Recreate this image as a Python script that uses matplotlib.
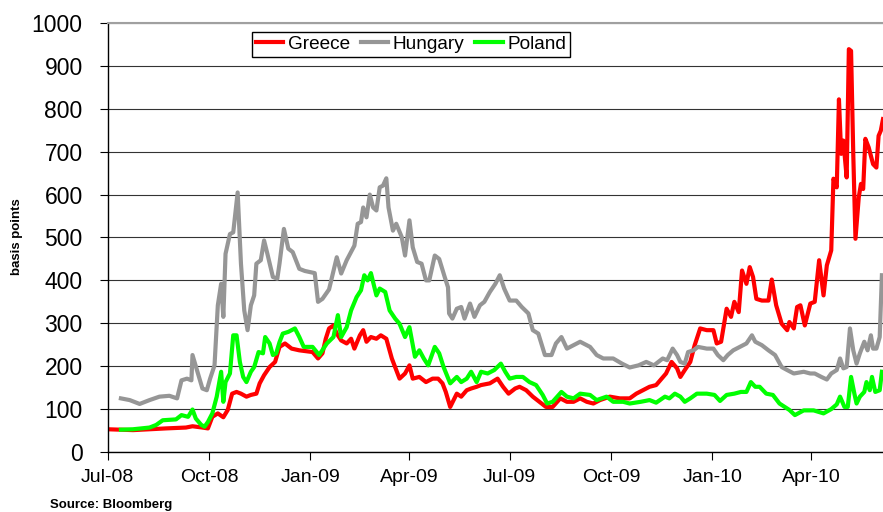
import pandas as pd
import matplotlib
matplotlib.use("Agg")
import matplotlib.pyplot as plt
import matplotlib.dates as mdates
from matplotlib.ticker import MultipleLocator

plt.rcParams['font.family'] = ['Liberation Sans', 'DejaVu Sans']

# 5-year sovereign CDS spreads (basis points)
greece_dates = [
    '2008-07-01', '2008-07-24', '2008-08-23', '2008-09-10', '2008-09-16', '2008-09-25', '2008-09-30',
    '2008-10-04', '2008-10-09', '2008-10-14', '2008-10-18', '2008-10-22', '2008-10-26', '2008-10-30',
    '2008-11-04', '2008-11-08', '2008-11-13', '2008-11-16', '2008-11-20', '2008-11-25', '2008-11-30',
    '2008-12-04', '2008-12-09', '2008-12-15', '2008-12-22', '2008-12-28',
    '2009-01-03', '2009-01-08', '2009-01-12', '2009-01-15', '2009-01-18', '2009-01-22', '2009-01-25', '2009-01-29',
    '2009-02-03', '2009-02-07', '2009-02-10', '2009-02-15', '2009-02-18', '2009-02-21', '2009-02-25',
    '2009-03-02', '2009-03-06', '2009-03-11', '2009-03-16', '2009-03-20', '2009-03-23', '2009-03-28',
    '2009-04-01', '2009-04-04', '2009-04-10', '2009-04-16', '2009-04-22', '2009-04-27',
    '2009-05-01', '2009-05-04', '2009-05-08', '2009-05-14', '2009-05-18', '2009-05-23', '2009-05-27',
    '2009-06-01', '2009-06-05', '2009-06-13', '2009-06-20', '2009-06-25', '2009-06-30',
    '2009-07-06', '2009-07-10', '2009-07-16', '2009-07-22', '2009-07-28',
    '2009-08-03', '2009-08-09', '2009-08-16', '2009-08-22', '2009-08-28',
    '2009-09-03', '2009-09-09', '2009-09-15', '2009-09-21', '2009-09-30',
    '2009-10-09', '2009-10-18', '2009-10-24', '2009-10-30',
    '2009-11-05', '2009-11-11', '2009-11-16', '2009-11-20', '2009-11-25', '2009-11-30',
    '2009-12-03', '2009-12-07', '2009-12-12', '2009-12-16', '2009-12-21', '2009-12-27',
    '2010-01-02', '2010-01-05', '2010-01-09', '2010-01-14', '2010-01-18', '2010-01-21', '2010-01-25', '2010-01-28',
    '2010-02-01', '2010-02-04', '2010-02-07', '2010-02-10', '2010-02-15', '2010-02-21', '2010-02-24', '2010-02-28',
    '2010-03-05', '2010-03-10', '2010-03-12', '2010-03-16', '2010-03-19', '2010-03-22', '2010-03-26', '2010-03-31',
    '2010-04-04', '2010-04-08', '2010-04-12', '2010-04-15', '2010-04-19', '2010-04-21', '2010-04-24', '2010-04-26',
    '2010-04-28', '2010-04-30',
    '2010-05-03', '2010-05-05', '2010-05-07', '2010-05-09', '2010-05-11', '2010-05-14', '2010-05-16', '2010-05-18',
    '2010-05-20', '2010-05-23', '2010-05-27', '2010-05-30',
    '2010-06-01', '2010-06-03', '2010-06-05',
]
greece_values = [
    53, 51, 55, 57, 60, 57, 55,
    82, 90, 81, 98, 136, 140, 136,
    129, 133, 136, 160, 179, 198, 210,
    245, 253, 241, 237, 235,
    233, 218, 230, 264, 288, 295, 276, 260,
    253, 264, 241, 272, 284, 257, 268,
    264, 272, 264, 218, 191, 171, 183,
    202, 171, 175, 163, 171, 171,
    160, 140, 105, 136, 129, 144, 148,
    152, 156, 160, 171, 152, 136,
    148, 152, 144, 129, 117,
    105, 105, 125, 117, 117,
    125, 117, 113, 121, 129,
    125, 125, 136, 144,
    152, 156, 171, 183, 210, 195,
    175, 191, 210, 249, 288, 284,
    284, 253, 257, 334, 315, 350, 326, 423,
    392, 431, 408, 357, 353, 353, 402, 342,
    299, 284, 303, 288, 338, 342, 295, 346,
    350, 447, 365, 435, 470, 637, 617, 822,
    695, 726,
    640, 939, 935, 695, 497, 594, 625, 613,
    730, 710, 671, 663,
    737, 749, 776,
]

hungary_dates = [
    '2008-07-13', '2008-07-21', '2008-07-30',
    '2008-08-08', '2008-08-17', '2008-08-26',
    '2008-09-02', '2008-09-06', '2008-09-11', '2008-09-15', '2008-09-16', '2008-09-21', '2008-09-25', '2008-09-29',
    '2008-10-02', '2008-10-06', '2008-10-09', '2008-10-12', '2008-10-14', '2008-10-16', '2008-10-20', '2008-10-23',
    '2008-10-27', '2008-10-30',
    '2008-11-02', '2008-11-05', '2008-11-08', '2008-11-11', '2008-11-13', '2008-11-17', '2008-11-20', '2008-11-23',
    '2008-11-28',
    '2008-12-02', '2008-12-04', '2008-12-08', '2008-12-12', '2008-12-16', '2008-12-22', '2008-12-27',
    '2009-01-05', '2009-01-08', '2009-01-12', '2009-01-18', '2009-01-25', '2009-01-29',
    '2009-02-03', '2009-02-10', '2009-02-13', '2009-02-16', '2009-02-18', '2009-02-21', '2009-02-24', '2009-02-27',
    '2009-03-02', '2009-03-05', '2009-03-08', '2009-03-11', '2009-03-13', '2009-03-17', '2009-03-20', '2009-03-25',
    '2009-03-28',
    '2009-04-01', '2009-04-04', '2009-04-08', '2009-04-12', '2009-04-16', '2009-04-19', '2009-04-24', '2009-04-28',
    '2009-05-03', '2009-05-06', '2009-05-07', '2009-05-10', '2009-05-14', '2009-05-18', '2009-05-21', '2009-05-26',
    '2009-05-30',
    '2009-06-04', '2009-06-08', '2009-06-13', '2009-06-18', '2009-06-22', '2009-06-26',
    '2009-07-01', '2009-07-07', '2009-07-12', '2009-07-18', '2009-07-22', '2009-07-27',
    '2009-08-02', '2009-08-08', '2009-08-12', '2009-08-17', '2009-08-22', '2009-08-28',
    '2009-09-03', '2009-09-12', '2009-09-18', '2009-09-24',
    '2009-10-03', '2009-10-11', '2009-10-18', '2009-10-26',
    '2009-11-02', '2009-11-09', '2009-11-17', '2009-11-21', '2009-11-26', '2009-11-30',
    '2009-12-03', '2009-12-07', '2009-12-10', '2009-12-15', '2009-12-19', '2009-12-27',
    '2010-01-02', '2010-01-06', '2010-01-11', '2010-01-15', '2010-01-20', '2010-01-26',
    '2010-02-01', '2010-02-06', '2010-02-09', '2010-02-15', '2010-02-21', '2010-02-27',
    '2010-03-05', '2010-03-10', '2010-03-16', '2010-03-25', '2010-03-31',
    '2010-04-04', '2010-04-10', '2010-04-15', '2010-04-19', '2010-04-24', '2010-04-27', '2010-04-30',
    '2010-05-03', '2010-05-06', '2010-05-09', '2010-05-12', '2010-05-15', '2010-05-19', '2010-05-22', '2010-05-25',
    '2010-05-27', '2010-05-30',
    '2010-06-02', '2010-06-04',
]
hungary_values = [
    125, 121, 112,
    121, 129, 131,
    125, 167, 171, 167, 226, 183, 148, 144,
    171, 202, 342, 392, 315, 462, 508, 512,
    605, 439,
    330, 284, 342, 365, 439, 447, 493, 462,
    408,
    404, 439, 520, 474, 466, 427, 422,
    417, 350, 357, 379, 454, 416,
    447, 481, 532, 536, 570, 547, 600, 570,
    563, 617, 621, 638, 570, 516, 532, 501,
    458,
    540, 477, 443, 439, 400, 400, 458, 450,
    408, 384, 323, 311, 334, 338, 311, 346,
    315,
    342, 350, 373, 392, 412, 381,
    353, 353, 338, 323, 284, 276,
    226, 226, 253, 268, 241, 249,
    257, 245, 226, 218,
    218, 206, 197, 202,
    210, 202, 218, 214, 241, 226,
    210, 206, 233, 237, 245, 241,
    241, 226, 214, 226, 237, 245,
    253, 272, 257, 249, 237, 226,
    198, 191, 183, 187, 183,
    183, 175, 169, 183, 191, 218, 195,
    198, 288, 237, 206, 230, 257, 237, 272,
    241, 241,
    268, 412,
]

poland_dates = [
    '2008-07-13', '2008-07-24',
    '2008-08-08', '2008-08-14', '2008-08-20',
    '2008-09-01', '2008-09-06', '2008-09-12', '2008-09-16', '2008-09-19', '2008-09-24', '2008-09-27', '2008-09-30',
    '2008-10-04', '2008-10-08', '2008-10-12', '2008-10-14', '2008-10-16', '2008-10-20', '2008-10-23', '2008-10-26',
    '2008-10-29',
    '2008-11-01', '2008-11-04', '2008-11-08', '2008-11-11', '2008-11-15', '2008-11-19', '2008-11-21', '2008-11-25',
    '2008-11-28',
    '2008-12-01', '2008-12-04', '2008-12-07', '2008-12-12', '2008-12-18', '2008-12-22', '2008-12-26',
    '2009-01-03', '2009-01-09', '2009-01-16', '2009-01-22', '2009-01-26', '2009-01-29',
    '2009-02-03', '2009-02-07', '2009-02-12', '2009-02-16', '2009-02-19', '2009-02-22', '2009-02-25',
    '2009-03-02', '2009-03-05', '2009-03-10', '2009-03-14', '2009-03-19', '2009-03-23', '2009-03-28',
    '2009-04-01', '2009-04-06', '2009-04-10', '2009-04-14', '2009-04-18', '2009-04-24', '2009-04-28',
    '2009-05-02', '2009-05-08', '2009-05-14', '2009-05-18', '2009-05-23', '2009-05-27',
    '2009-06-01', '2009-06-05', '2009-06-11', '2009-06-17', '2009-06-23', '2009-06-27',
    '2009-07-01', '2009-07-07', '2009-07-13', '2009-07-19', '2009-07-25', '2009-07-31',
    '2009-08-04', '2009-08-09', '2009-08-17', '2009-08-22', '2009-08-28',
    '2009-09-03', '2009-09-12', '2009-09-18', '2009-09-27',
    '2009-10-03', '2009-10-12', '2009-10-18', '2009-10-28',
    '2009-11-05', '2009-11-11', '2009-11-19', '2009-11-23', '2009-11-28',
    '2009-12-03', '2009-12-07', '2009-12-12', '2009-12-18', '2009-12-27',
    '2010-01-03', '2010-01-08', '2010-01-14', '2010-01-21', '2010-01-27',
    '2010-02-01', '2010-02-05', '2010-02-09', '2010-02-13', '2010-02-19', '2010-02-25',
    '2010-03-03', '2010-03-12', '2010-03-17', '2010-03-25',
    '2010-04-03', '2010-04-12', '2010-04-19', '2010-04-24', '2010-04-27',
    '2010-05-01', '2010-05-04', '2010-05-07', '2010-05-10', '2010-05-12', '2010-05-15', '2010-05-19', '2010-05-21',
    '2010-05-24', '2010-05-26', '2010-05-29',
    '2010-06-02', '2010-06-04',
]
poland_values = [
    52, 53,
    57, 63, 74,
    76, 86, 82, 99, 78, 63, 59, 70,
    90, 129, 187, 117, 163, 183, 272, 272,
    210,
    175, 163, 187, 198, 233, 230, 268, 253,
    226,
    230, 256, 276, 280, 288, 268, 245,
    245, 226, 253, 268, 319, 268,
    291, 330, 361, 377, 412, 400, 417,
    365, 381, 373, 330, 311, 299, 268,
    291, 222, 237, 218, 202, 245, 230,
    198, 160, 175, 163, 171, 187,
    163, 187, 183, 191, 206, 187,
    171, 175, 175, 163, 156, 133,
    113, 117, 140, 129, 125,
    136, 133, 121, 129,
    117, 117, 113, 117,
    121, 115, 129, 125, 136,
    129, 117, 125, 136, 136,
    133, 119, 133, 136, 140,
    140, 163, 152, 152, 136, 133,
    113, 98, 86, 97,
    97, 90, 100, 111, 129,
    105, 105, 175, 136, 113, 129, 140, 163,
    144, 175, 140,
    144, 187,
]

series_names = ['Greece', 'Hungary', 'Poland']
series_colors = ['#ff0000', '#969696', '#00ff00']
quarter_ticks = ['2008-07-01', '2008-10-01', '2009-01-01', '2009-04-01',
                 '2009-07-01', '2009-10-01', '2010-01-01', '2010-04-01']

fig = plt.figure(figsize=(8.83, 5.12), dpi=100)
ax = fig.add_axes([0.12197, 0.11719, 0.87803, 0.83789])

all_dates = [greece_dates, hungary_dates, poland_dates]
all_values = [greece_values, hungary_values, poland_values]
for name, color, d, v in zip(series_names, series_colors, all_dates, all_values):
    ax.plot(pd.to_datetime(d), v, color=color, lw=3, label=name, solid_joinstyle='round')

ax.set_xlim(pd.Timestamp('2008-07-01'), pd.Timestamp('2010-06-05'))
ax.set_ylim(0, 1000)
ax.yaxis.set_major_locator(MultipleLocator(100))
ax.set_xticks(pd.to_datetime(quarter_ticks))
ax.xaxis.set_major_formatter(mdates.DateFormatter('%b-%y'))

ax.set_axisbelow(True)
ax.yaxis.grid(True, color='#333333', lw=0.8)
ax.tick_params(axis='y', direction='out', length=6, width=0.8, pad=12, labelsize=16.5)
ax.tick_params(axis='x', direction='out', length=6, width=0.8, pad=6, labelsize=14)

for side in ['left', 'bottom']:
    ax.spines[side].set_color('black')
    ax.spines[side].set_linewidth(1.0)
ax.spines['top'].set_color('#a0a0a0')
ax.spines['top'].set_linewidth(1.5)
ax.spines['right'].set_visible(False)

leg = ax.legend(loc='upper left', bbox_to_anchor=(0.186, 0.979), ncol=3, fontsize=13.7,
                frameon=True, fancybox=False, edgecolor='black', framealpha=1,
                handlelength=1.45, handletextpad=0.25, columnspacing=0.55,
                borderpad=0.2, borderaxespad=0)
leg.get_frame().set_linewidth(1.0)

fig.text(17 / 883, 1 - 237 / 512, 'basis points', rotation=90, ha='center', va='center',
         fontsize=9.5, fontweight='bold')
fig.text(50 / 883, 1 - 508 / 512, 'Source: Bloomberg', ha='left', va='baseline',
         fontsize=9.5, fontweight='bold')

fig.savefig('out.png', dpi=100)
